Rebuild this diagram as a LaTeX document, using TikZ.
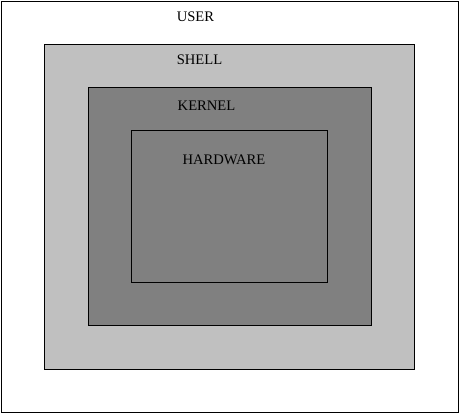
\documentclass[tikz,border=0pt]{standalone}
\usepackage{fontspec}
\setmainfont{Liberation Serif}
\begin{document}
\begin{tikzpicture}[x=1pt,y=-1pt,
  layer/.style={draw=black,line width=1pt,inner sep=0pt,anchor=north west},
  lbl/.style={font=\fontsize{14.6}{16}\selectfont,inner sep=0pt}]
\useasboundingbox (0,0) rectangle (459,413);
\node[layer,minimum width=457pt,minimum height=411pt] (user) at (0.6,0.6) {};
\node[layer,fill={rgb,255:red,192;green,192;blue,192},minimum width=370pt,minimum height=325pt] (shell) at (44,44) {};
\node[layer,fill={rgb,255:red,128;green,128;blue,128},minimum width=283pt,minimum height=238pt] (kernel) at (88,87) {};
\node[layer,fill={rgb,255:red,128;green,128;blue,128},minimum width=196pt,minimum height=152pt] (hardware) at (131,130) {};
\node[lbl] (tuser) at (195.5,17) {USER};
\node[lbl] (tshell) at (199.5,60) {SHELL};
\node[lbl] (tkernel) at (206.5,106) {KERNEL};
\node[lbl] (thardware) at (224,160) {HARDWARE};
\end{tikzpicture}
\end{document}
